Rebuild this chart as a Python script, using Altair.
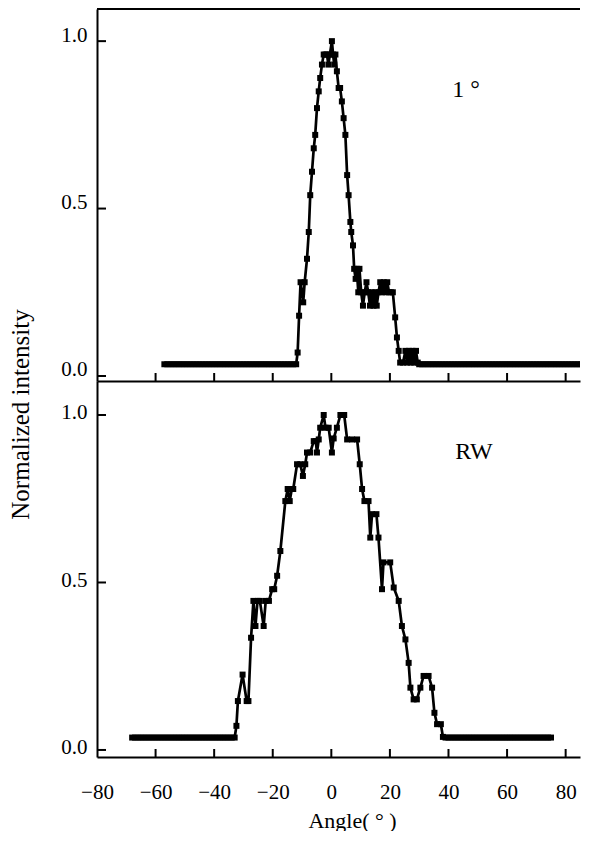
import altair as alt
import pandas as pd

# ---- data ----
top_angle = [-57, -56, -55, -54, -53, -52, -51, -50, -49, -48, -47, -46, -45, -44, -43, -42,
             -41, -40, -39, -38, -37, -36, -35, -34, -33, -32, -31, -30, -29, -28, -27, -26,
             -25, -24, -23, -22, -21, -20, -19, -18, -17, -16, -15, -14, -13, -12,
             -11.5, -11.0, -10.5, -10.0, -9.6, -9.1, -8.3, -7.7, -7.2, -6.6, -6.0, -5.5,
             -4.9, -4.3, -3.8, -3.2, -2.6, -2.0, -1.5, -1.0, -0.5, 0.2, 0.6, 1.0, 1.4, 1.9,
             2.5, 3.0, 3.6, 4.2, 4.8, 5.4, 5.9, 6.5, 6.8, 7.4, 7.8, 8.3, 8.7, 9.2, 9.6, 10.2,
             10.8, 11.4, 12.0, 12.6, 13.2, 13.8, 14.4, 15.0, 15.5, 16.1, 16.7, 17.3, 17.9,
             18.5, 19.1, 19.7, 20.3, 21.0, 21.8, 22.4, 23.0, 23.5, 24.5, 25.3, 25.9, 26.5,
             27.1, 27.7, 28.3, 28.9, 29.5,
             30, 31, 32, 33, 34, 35, 36, 37, 38, 39, 40, 41, 42, 43, 44, 45, 46, 47, 48, 49,
             50, 51, 52, 53, 54, 55, 56, 57, 58, 59, 60, 61, 62, 63, 64, 65, 66, 67, 68, 69,
             70, 71, 72, 73, 74, 75, 76, 77, 78, 79, 80, 81, 82, 83, 84, 85, 86, 87, 88, 89, 90]
top_value = [0.035] * 46 + [
             0.07, 0.18, 0.28, 0.25, 0.22, 0.28, 0.35, 0.43, 0.54, 0.61, 0.68, 0.72,
             0.80, 0.85, 0.89, 0.93, 0.96, 0.96, 0.96, 0.93, 0.96, 1.0, 0.96, 0.93, 0.96, 0.91,
             0.86, 0.86, 0.82, 0.77, 0.72, 0.60, 0.54, 0.46, 0.43, 0.39, 0.32, 0.29, 0.32, 0.25,
             0.32, 0.25, 0.21, 0.25, 0.28, 0.25, 0.21, 0.25, 0.21, 0.25, 0.21, 0.25, 0.28, 0.25,
             0.28, 0.25, 0.28, 0.25, 0.25, 0.25, 0.175, 0.115, 0.075, 0.04, 0.04, 0.075, 0.04,
             0.075, 0.04, 0.075, 0.04, 0.075, 0.04] + [0.035] * 61

bot_angle = [-68, -67, -66, -65, -64, -63, -62, -61, -60, -59, -58, -57, -56, -55, -54, -53,
             -52, -51, -50, -49, -48, -47, -46, -45, -44, -43, -42, -41, -40, -39, -38, -37,
             -36, -35, -34, -33,
             -32.4, -31.9, -30.3, -28.9, -28.3, -27.4, -26.6, -25.9, -25.2, -24.4, -23.1,
             -22.4, -21.3, -20.2, -19.5, -18.5, -17.4, -15.7, -14.9, -14.2, -13.5, -13.0,
             -11.7, -10.6, -9.7, -8.9, -8.3, -7.2, -6.0, -5.3, -4.9, -4.3, -3.8, -2.6, -2.0,
             -0.9, 0.2, 0.8, 1.9, 3.1, 4.4, 5.4, 7.1, 8.8, 9.7, 10.5, 11.3, 12.7, 13.3, 13.9,
             15.4, 16.1, 17.3, 17.8, 20.1, 21.3, 23.0, 24.1, 25.3, 26.4, 27.0, 28.1, 29.2,
             30.4, 31.5, 33.2, 34.4, 35.2, 36.1, 37.4, 38.1,
             39, 40, 41, 42, 43, 44, 45, 46, 47, 48, 49, 50, 51, 52, 53, 54, 55, 56, 57, 58,
             59, 60, 61, 62, 63, 64, 65, 66, 67, 68, 69, 70, 71, 72, 73, 74, 75]
bot_value = [0.037] * 36 + [
             0.072, 0.146, 0.225, 0.146, 0.146, 0.335, 0.445, 0.37, 0.445, 0.445, 0.37,
             0.445, 0.445, 0.48, 0.48, 0.52, 0.594, 0.743, 0.779, 0.743, 0.779, 0.779,
             0.853, 0.853, 0.818, 0.853, 0.888, 0.888, 0.922, 0.922, 0.888, 0.927, 0.962, 1.0,
             0.962, 0.962, 0.888, 0.93, 0.962, 1.0, 1.0, 0.927, 0.927, 0.927, 0.853, 0.779,
             0.743, 0.743, 0.634, 0.704, 0.704, 0.634, 0.48, 0.56, 0.56, 0.485, 0.445, 0.37,
             0.33, 0.26, 0.186, 0.151, 0.151, 0.186, 0.221, 0.221, 0.186, 0.111, 0.077,
             0.077, 0.039] + [0.037] * 37

x_ticks = [-60, -40, -20, 0, 20, 40, 60, 80]
x_labels = [-80, -60, -40, -20, 0, 20, 40, 60, 80]
y_ticks = [0.0, 0.5, 1.0]

panel_labels = ["1 °", "RW"]
label_pos = [(41.3, 0.853), (42.3, 0.89)]

# ---- chart ----
FONT = "Liberation Serif"
W = 483
X_DOMAIN = [-80, 84.9]


def panel(angles, values, h, ydom, label, lpos, bottom):
    df = pd.DataFrame({"angle": angles, "value": values})
    xscale = alt.Scale(domain=X_DOMAIN, nice=False, zero=False)
    yscale = alt.Scale(domain=ydom, nice=False, zero=False)
    if bottom:
        xaxis = alt.Axis(values=x_labels, labels=True, ticks=False, grid=False,
                         domain=True, domainColor="black", domainWidth=2,
                         labelFont=FONT, labelFontSize=21, labelColor="black",
                         labelPadding=24, labelFlush=False,
                         title="Angle( ° )", titleFont=FONT, titleFontSize=22,
                         titleFontWeight="normal", titleColor="black",
                         titleX=255, titleY=70, titleBaseline="alphabetic",
                         titleAlign="center")
        yaxis = alt.Axis(values=y_ticks, format=".1f", ticks=False, grid=False,
                         domain=True, domainColor="black", domainWidth=2,
                         labelFont=FONT, labelFontSize=21, labelColor="black",
                         labelPadding=10, labelFlush=False, labelOffset=-2, title=None)
    else:
        xaxis = alt.Axis(values=x_labels, labels=False, ticks=False, grid=False,
                         domain=True, domainColor="black", domainWidth=2, title=None)
        yaxis = alt.Axis(values=y_ticks, format=".1f", ticks=False, grid=False,
                         domain=True, domainColor="black", domainWidth=2,
                         labelFont=FONT, labelFontSize=21, labelColor="black",
                         labelPadding=10, labelFlush=False, labelOffset=-6,
                         title="Normalized intensity", titleFont=FONT,
                         titleFontSize=25, titleFontWeight="normal",
                         titleColor="black", titleX=-77, titleY=405,
                         titleAngle=270, titleAlign="center",
                         titleBaseline="middle")
    x = alt.X("angle:Q", scale=xscale, axis=xaxis)
    y = alt.Y("value:Q", scale=yscale, axis=yaxis)
    x_plain = alt.X("angle:Q", scale=xscale)
    y_plain = alt.Y("value:Q", scale=yscale)

    line = alt.Chart(df).mark_line(color="black", strokeWidth=2.7, clip=True).encode(x=x, y=y)
    pts = alt.Chart(df).mark_square(color="black", size=36, opacity=1, clip=True).encode(
        x=x_plain, y=y_plain)

    xt = alt.Chart(pd.DataFrame({"angle": x_ticks})).mark_rule(
        color="black", strokeWidth=2).encode(x=x_plain, y=alt.value(h), y2=alt.value(h - 8))
    yt = alt.Chart(pd.DataFrame({"value": y_ticks})).mark_rule(
        color="black", strokeWidth=2).encode(y=y_plain, x=alt.value(0), x2=alt.value(9))

    lab = alt.Chart(pd.DataFrame({"angle": [lpos[0]], "value": [lpos[1]], "t": [label]})).mark_text(
        align="left", baseline="middle", font=FONT, fontSize=24, color="black").encode(
        x=x_plain, y=y_plain, text="t:N")

    layers = [line, pts, xt, yt, lab]
    if not bottom:
        border = alt.Chart(pd.DataFrame({"angle": [0]})).mark_rule(
            color="black", strokeWidth=2).encode(
            x=alt.value(0), x2=alt.value(W), y=alt.value(0))
        layers.append(border)
    return alt.layer(*layers).properties(width=W, height=h)


top = panel(top_angle, top_value, 372, [-0.015, 1.096], panel_labels[0], label_pos[0], False)
bot = panel(bot_angle, bot_value, 376, [-0.021, 1.1015], panel_labels[1], label_pos[1], True)

chart = alt.vconcat(top, bot, spacing=0, bounds="flush").properties(
    padding={"left": 0, "top": 0, "right": 0, "bottom": 0}
).configure(background="white", font=FONT).configure_view(stroke=None)

chart.save("out.html", embed_options={"renderer": "svg", "actions": False})
